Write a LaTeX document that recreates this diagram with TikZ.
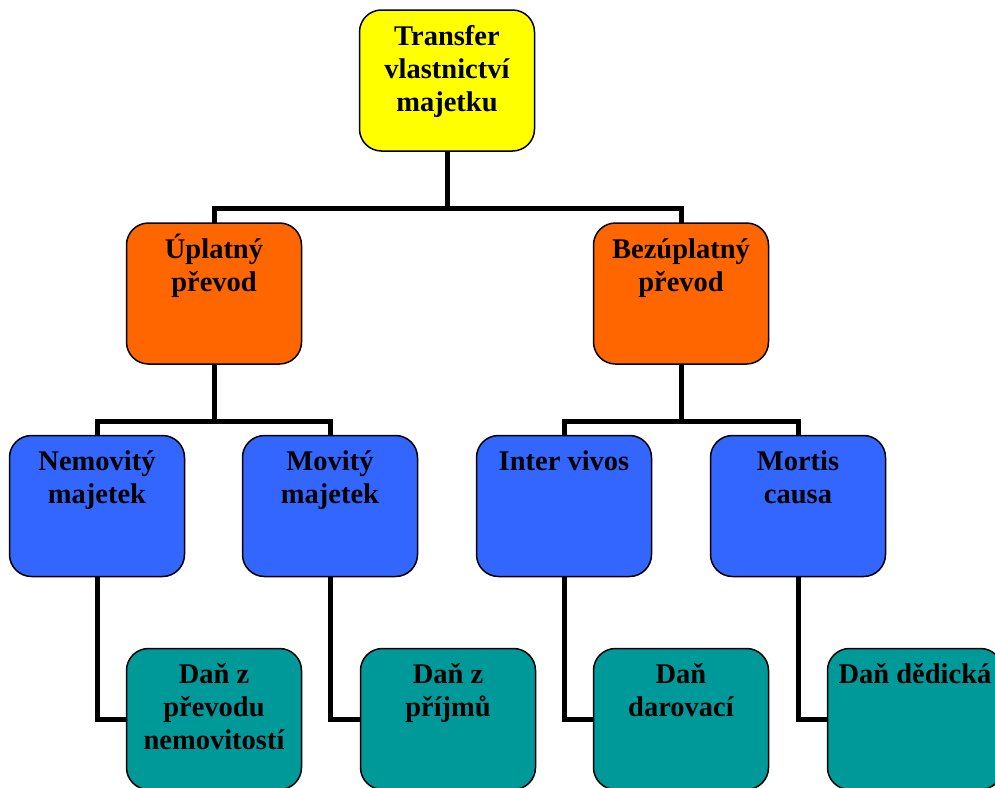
\documentclass[tikz,border=0pt]{standalone}
\usepackage{fontspec}
\setmainfont{Liberation Serif}
\usetikzlibrary{backgrounds}
\definecolor{yel}{HTML}{FFFF00}
\definecolor{org}{HTML}{FF6600}
\definecolor{blu}{HTML}{3366FF}
\definecolor{tea}{HTML}{009999}
\newcommand\firstln{\rule{0pt}{27pt}}
\tikzset{
  box/.style={draw=black, line width=1.5pt, rounded corners=22pt, minimum width=175pt, minimum height=141pt, inner sep=0pt, outer sep=0pt},
  lvlA/.style={box, fill=yel},
  lvlB/.style={box, fill=org},
  lvlC/.style={box, fill=blu},
  lvlD/.style={box, fill=tea},
  txt/.style={anchor=north, inner sep=0pt, outer sep=0pt, align=center, font=\bfseries\fontsize{28.5pt}{33pt}\selectfont, yshift=-8pt},
  conn/.style={line width=5pt, line join=miter, draw=black}
}
\begin{document}
\begin{tikzpicture}[x=1pt,y=-1pt]
\useasboundingbox (0,0) rectangle (995,787);
% boxes
\node[lvlA] (top) at (447,80.5) {};
\node[lvlB] (oL) at (214,293.5) {};
\node[lvlB] (oR) at (681,293.5) {};
\node[lvlC] (b1) at (97,506) {};
\node[lvlC] (b2) at (330,506) {};
\node[lvlC] (b3) at (564,506) {};
\node[lvlC] (b4) at (798,506) {};
\node[lvlD] (t1) at (214,719) {};
\node[lvlD] (t2) at (448,719) {};
\node[lvlD] (t3) at (681,719) {};
\node[lvlD] (t4) at (915,719) {};
% texts
\node[txt] (xtop) at (top.north) {\firstln Transfer\\vlastnictví\\majetku};
\node[txt] (xoL) at (oL.north) {\firstln Úplatný\\převod};
\node[txt] (xoR) at (oR.north) {\firstln Bezúplatný\\převod};
\node[txt] (xb1) at (b1.north) {\firstln Nemovitý\\majetek};
\node[txt] (xb2) at (b2.north) {\firstln Movitý\\majetek};
\node[txt] (xb3) at (b3.north) {\firstln Inter vivos};
\node[txt] (xb4) at (b4.north) {\firstln Mortis\\causa};
\node[txt] (xt1) at (t1.north) {\firstln Daň z\\převodu\\nemovitostí};
\node[txt] (xt2) at (t2.north) {\firstln Daň z\\příjmů};
\node[txt] (xt3) at (t3.north) {\firstln Daň\\darovací};
\node[txt] (xt4) at (t4.north) {\firstln Daň dědická};
% connectors
\coordinate (busA) at (0,208);
\coordinate (busB) at (0,421);
\begin{scope}[on background layer]
  \draw[conn] (top.south) -- (top.south |- busA);
  \draw[conn] (oL.north) |- (top.south |- busA) -| (oR.north);
  \draw[conn] (oL.south) -- (oL.south |- busB);
  \draw[conn] (b1.north) |- (oL.south |- busB) -| (b2.north);
  \draw[conn] (oR.south) -- (oR.south |- busB);
  \draw[conn] (b3.north) |- (oR.south |- busB) -| (b4.north);
  \draw[conn] (b1.south) |- (t1.west);
  \draw[conn] (b2.south) |- (t2.west);
  \draw[conn] (b3.south) |- (t3.west);
  \draw[conn] (b4.south) |- (t4.west);
\end{scope}
\end{tikzpicture}
\end{document}
